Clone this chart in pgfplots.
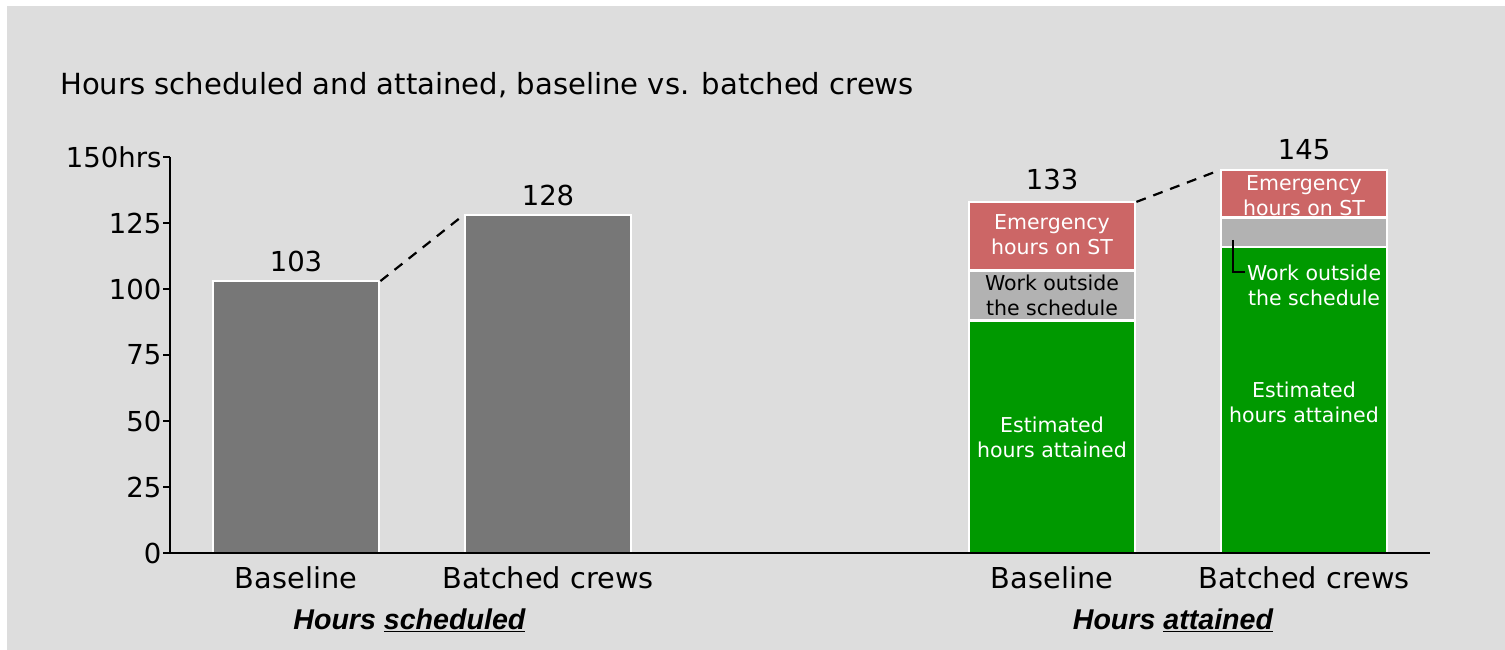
\documentclass[border=0pt]{standalone}
\usepackage{pgfplots}
\pgfplotsset{compat=1.18}
\usepackage{fontspec}
\setmainfont{DejaVu Sans}
\newfontfamily\arialbi{Liberation Sans}
\definecolor{bg}{HTML}{DDDDDD}
\definecolor{dgray}{HTML}{777777}
\definecolor{lgray}{HTML}{B2B2B2}
\definecolor{bgreen}{HTML}{009900}
\definecolor{bred}{HTML}{CC6666}
\newcommand{\bigf}{\fontsize{28.8}{34}\selectfont}
\newcommand{\numf}{\fontsize{27.5}{32}\selectfont}
\newcommand{\smlf}{\fontsize{20.5}{25}\selectfont}
\begin{document}
\begin{tikzpicture}[x=1pt,y=1pt]
\useasboundingbox (0,0) rectangle (1505,650);
\fill[bg] (7,0) rectangle (1505,644);
\node[anchor=west,inner sep=0pt] at (60,565) {\fontsize{29.1}{34}\selectfont Hours scheduled and attained, baseline vs. batched crews};
% scheduled bars
\begin{axis}[
  at={(296pt,97pt)}, anchor=origin,
  scale only axis, width=1260pt, height=396pt,
  xmin=-0.5, xmax=4.5, ymin=0, ymax=150,
  hide axis, clip=false,
]
\addplot[ybar, bar width=166pt, bar shift=0pt, fill=dgray, draw=white, line width=2.5pt] coordinates {(0,103) (1,128)};
\addplot[sharp plot, black, line width=2.2pt, dash pattern=on 10pt off 8pt] coordinates {(0.335,103) (0.665,128)};
\node[font=\numf] at (axis cs:0,110.6) {103};
\node[font=\numf] at (axis cs:1,135.6) {128};
\node[font=\arialbi\bfseries\itshape\fontsize{28.6}{32}\selectfont] at (axis cs:0.45,-25.4) {Hours \underline{scheduled}};
\node[font=\arialbi\bfseries\itshape\fontsize{28.6}{32}\selectfont] at (axis cs:3.48,-25.4) {Hours \underline{attained}};
\end{axis}
% attained stacked bars + axis
\begin{axis}[
  at={(296pt,97pt)}, anchor=origin,
  scale only axis, width=1260pt, height=396pt,
  xmin=-0.5, xmax=4.5, ymin=0, ymax=150,
  axis x line*=bottom, axis y line*=left,
  axis line style={line width=2pt},
  axis on top, clip=false,
  ybar stacked, bar width=166pt,
  xtick={0,1,3,4},
  xticklabels={Baseline,Batched crews,Baseline,Batched crews},
  x tick style={draw=none},
  xticklabel style={font=\bigf, yshift=-3pt},
  ytick={0,25,50,75,100,125,150},
  yticklabels={0,25,50,75,100,125,150hrs},
  yticklabel style={font=\numf, anchor=east, xshift=2pt},
  y tick style={line width=2pt, black},
  tick align=outside, major tick length=7pt,
]
\addplot[fill=bgreen, draw=white, line width=2.5pt] coordinates {(3,88) (4,116)};
\addplot[fill=lgray, draw=white, line width=2.5pt] coordinates {(3,19) (4,11)};
\addplot[fill=bred, draw=white, line width=2.5pt] coordinates {(3,26) (4,18)};
\end{axis}
\begin{axis}[
  at={(296pt,97pt)}, anchor=origin,
  scale only axis, width=1260pt, height=396pt,
  xmin=-0.5, xmax=4.5, ymin=0, ymax=150,
  hide axis, clip=false,
]
\addplot[black, line width=2.2pt, dash pattern=on 10pt off 8pt] coordinates {(3.335,133) (3.665,145)};
\addplot[black, line width=1.5pt] coordinates {(3.718,118.6) (3.718,106.4) (3.766,106.4)};
\node[font=\numf] at (axis cs:3,141.3) {133};
\node[font=\numf] at (axis cs:4,152.7) {145};
\node[font=\smlf, text=white, align=center] at (axis cs:3,120.5) {Emergency\\hours on ST};
\node[font=\smlf, text=black, align=center] at (axis cs:3,97.7) {Work outside\\the schedule};
\node[font=\smlf, text=white, align=center] at (axis cs:3,43.75) {Estimated\\hours attained};
\node[font=\smlf, text=white, align=center] at (axis cs:4,135.4) {Emergency\\hours on ST};
\node[font=\smlf, text=white, align=center] at (axis cs:4.04,101.3) {Work outside\\the schedule};
\node[font=\smlf, text=white, align=center] at (axis cs:4,57.0) {Estimated\\hours attained};
\end{axis}
\end{tikzpicture}
\end{document}
